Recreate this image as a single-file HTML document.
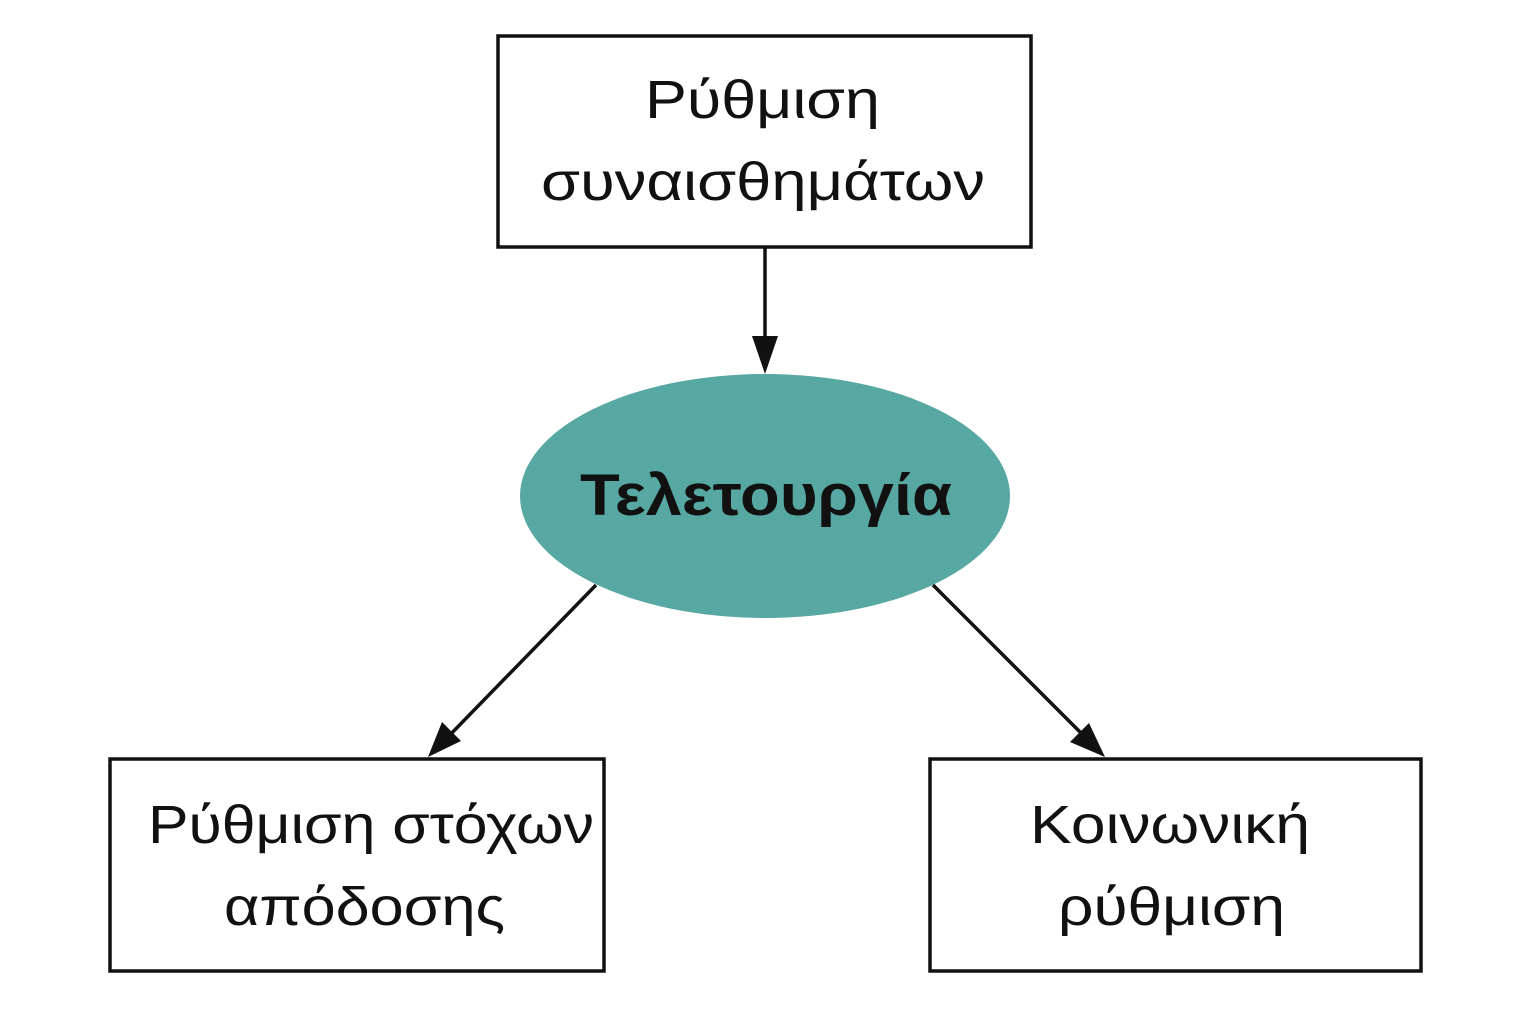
<!DOCTYPE html>
<html><head><meta charset="utf-8"><style>
html,body{margin:0;padding:0;background:#fff;width:1536px;height:1024px;overflow:hidden}
svg{display:block}
text{font-family:"Liberation Sans","DejaVu Sans",sans-serif;fill:#111}
</style></head><body>
<svg width="1536" height="1024" viewBox="0 0 1536 1024">
<rect x="498" y="36" width="533" height="211" fill="#fff" stroke="#111" stroke-width="3.5"/>
<rect x="110" y="759" width="494" height="212" fill="#fff" stroke="#111" stroke-width="3.5"/>
<rect x="930" y="759" width="491" height="212" fill="#fff" stroke="#111" stroke-width="3.5"/>
<ellipse cx="765" cy="496" rx="245" ry="122" fill="#57a8a2"/>
<line x1="765" y1="247" x2="765" y2="345" stroke="#111" stroke-width="3.5"/>
<polygon points="752,336 778,336 765,374" fill="#111"/>
<line x1="596" y1="585" x2="445" y2="740" stroke="#111" stroke-width="3.5"/>
<polygon points="428,757 442,722 461,741" fill="#111"/>
<line x1="933" y1="585" x2="1088" y2="740" stroke="#111" stroke-width="3.5"/>
<polygon points="1105,757 1070,742 1089,723" fill="#111"/>
<g font-size="54" lengthAdjust="spacingAndGlyphs">
<text x="645" y="118" textLength="235" lengthAdjust="spacingAndGlyphs">Ρύθμιση</text>
<text x="541" y="200" textLength="444" lengthAdjust="spacingAndGlyphs">συναισθημάτων</text>
<text x="148" y="843" textLength="446" lengthAdjust="spacingAndGlyphs">Ρύθμιση στόχων</text>
<text x="224" y="925" textLength="281" lengthAdjust="spacingAndGlyphs">απόδοσης</text>
<text x="1030" y="843" textLength="280" lengthAdjust="spacingAndGlyphs">Κοινωνική</text>
<text x="1058" y="925" textLength="227" lengthAdjust="spacingAndGlyphs">ρύθμιση</text>
</g>
<text x="580" y="515" font-size="58" font-weight="bold" textLength="372" lengthAdjust="spacingAndGlyphs">Τελετουργία</text>
</svg>
</body></html>
